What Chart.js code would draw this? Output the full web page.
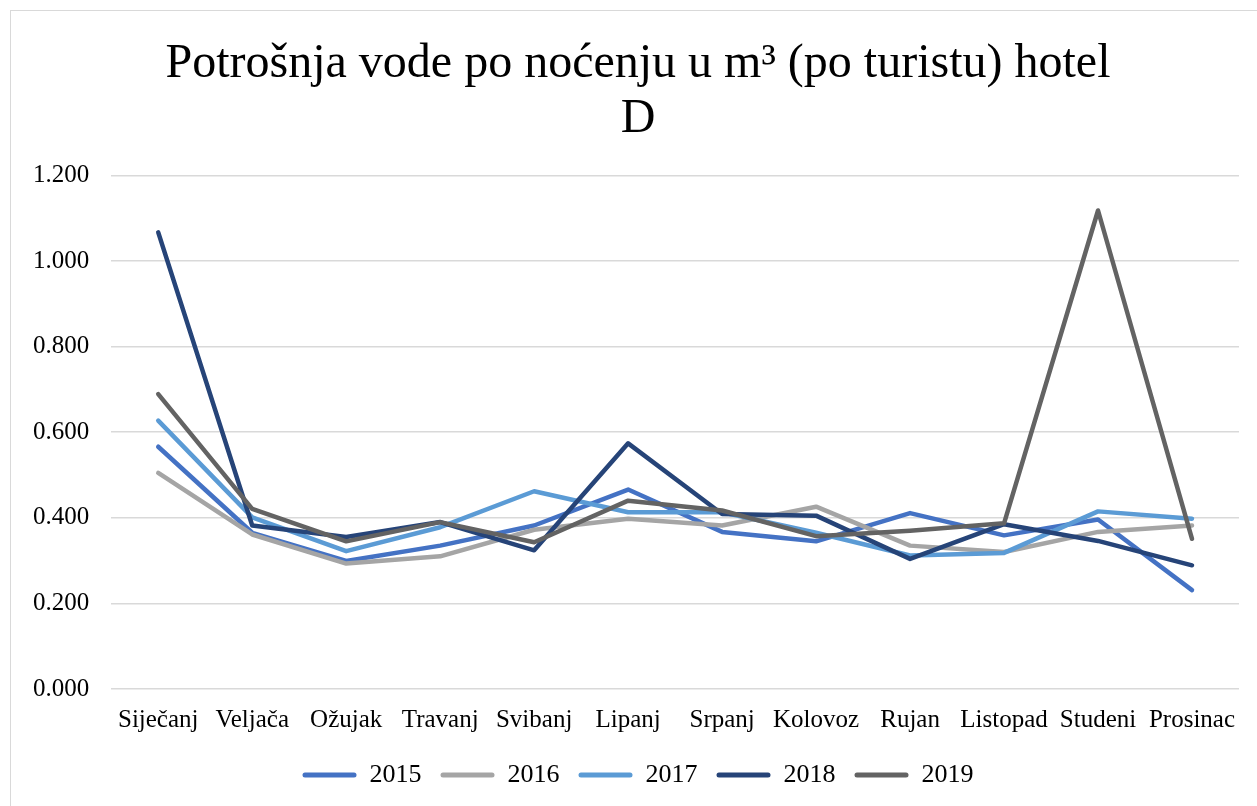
<!DOCTYPE html>
<html>
<head>
<meta charset="utf-8">
<script src="https://cdn.jsdelivr.net/npm/chart.js@4/dist/chart.umd.min.js"></script>
<style>
  body { margin: 0; background: #fff; overflow: hidden; }
  #frame {
    position: absolute; left: 10px; top: 10px;
    width: 1260px; height: 810px;
    border: 1px solid #d9d9d9; box-sizing: border-box;
  }
  #wrap { position: absolute; left: 11px; top: 11px; width: 1300px; height: 795px; }
</style>
</head>
<body>
<div id="frame"></div>
<div id="wrap"><canvas id="waterChart"></canvas></div>
<script>
// Months (x axis categories)
const months = ["Siječanj", "Veljača", "Ožujak", "Travanj", "Svibanj", "Lipanj",
  "Srpanj", "Kolovoz", "Rujan", "Listopad", "Studeni", "Prosinac"];

// Water use per night, m3 per tourist, hotel D
const years = ["2015", "2016", "2017", "2018", "2019"];
const values2015 = [0.566, 0.365, 0.299, 0.335, 0.382, 0.466, 0.367, 0.345, 0.411, 0.359, 0.396, 0.231];
const values2016 = [0.505, 0.361, 0.293, 0.310, 0.372, 0.398, 0.382, 0.426, 0.335, 0.320, 0.367, 0.382];
const values2017 = [0.627, 0.401, 0.322, 0.378, 0.462, 0.413, 0.413, 0.365, 0.312, 0.318, 0.415, 0.398];
const values2018 = [1.067, 0.382, 0.355, 0.390, 0.324, 0.574, 0.409, 0.405, 0.304, 0.385, 0.346, 0.289];
const values2019 = [0.689, 0.421, 0.345, 0.390, 0.343, 0.440, 0.417, 0.357, 0.370, 0.387, 1.118, 0.351];

// Y axis ticks
const yTicks = [0, 0.2, 0.4, 0.6, 0.8, 1.0, 1.2];

const seriesValues = [values2015, values2016, values2017, values2018, values2019];
const colors = ["#4472C4", "#A5A5A5", "#5B9BD5", "#264478", "#636363"];

const serif = "'Liberation Serif', 'Times New Roman', serif";

const datasets = years.map((year, i) => ({
  label: year,
  data: seriesValues[i],
  borderColor: colors[i],
  backgroundColor: colors[i],
  borderWidth: 4.5,
  pointRadius: 0,
  tension: 0,
  borderCapStyle: "round",
  borderJoinStyle: "round",
  // later years drawn on top, like the original
  order: years.length - i,
}));

const ctx = document.getElementById("waterChart").getContext("2d");
const waterChart = new Chart(ctx, {
  type: "line",
  data: { labels: months, datasets: datasets },
  options: {
    responsive: true,
    maintainAspectRatio: false,
    animation: false,
    // canvas runs past the right edge so title and legend sit a bit right of the plot centre
    layout: { padding: { left: 0, right: 46, top: 18, bottom: 8 } },
    plugins: {
      title: {
        display: true,
        text: ["Potrošnja vode po noćenju u m³ (po turistu) hotel", "D"],
        color: "#000",
        font: { family: serif, size: 48, weight: "normal", lineHeight: 1.15 },
        padding: { top: 8, bottom: 28 },
      },
      legend: {
        position: "bottom",
        labels: {
          color: "#000",
          font: { family: serif, size: 26 },
          boxWidth: 54,
          boxHeight: 5,
          padding: 19,
          useBorderRadius: true,
          borderRadius: 2.5,
          sort: (a, b) => a.datasetIndex - b.datasetIndex,
          generateLabels: (chart) =>
            Chart.defaults.plugins.legend.labels.generateLabels(chart).map((item) => {
              item.lineWidth = 0;
              item.fillStyle = item.strokeStyle;
              return item;
            }),
        },
      },
      tooltip: { enabled: false },
    },
    scales: {
      x: {
        offset: true,
        grid: { display: false },
        border: { display: false },
        ticks: { color: "#000", font: { family: serif, size: 25 }, maxRotation: 0, autoSkip: false, padding: 8 },
      },
      y: {
        min: yTicks[0],
        max: yTicks[yTicks.length - 1],
        afterBuildTicks: (axis) => { axis.ticks = yTicks.map((v) => ({ value: v })); },
        grid: { color: "#d9d9d9", lineWidth: 1.5, drawTicks: false },
        border: { display: false },
        ticks: {
          color: "#000",
          font: { family: serif, size: 25 },
          padding: 22,
          callback: (v) => Number(v).toFixed(3),
        },
      },
      // empty spacer on the right, keeps the plot's right edge in place
      yRight: {
        position: "right",
        grid: { display: false },
        border: { display: false },
        ticks: { display: false },
        afterFit: (axis) => { axis.width = 26; },
      },
    },
  },
});
</script>
</body>
</html>
